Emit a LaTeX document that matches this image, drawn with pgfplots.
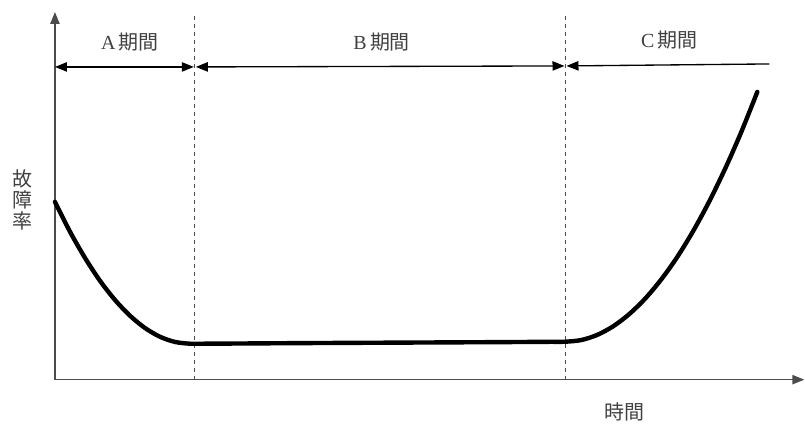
\documentclass[border=0pt]{standalone}
\usepackage{pgfplots}
\pgfplotsset{compat=1.18}
\usepackage{fontspec}
\setmainfont{Liberation Serif}
\newfontfamily\jp{Noto Sans CJK JP}
\usetikzlibrary{arrows.meta}
\begin{document}
\begin{tikzpicture}
\begin{axis}[
    x=0.75pt, y=0.75pt,
    xmin=0, xmax=750, ymin=0, ymax=368,
    axis lines=left,
    axis line style={line width=1.1pt, black!70, -{Triangle[length=9pt,width=7pt]}},
    xtick=\empty, ytick=\empty,
    clip=false,
]
% bounding box of the picture
\path (axis cs:-55,-44) rectangle (axis cs:750,380);

% period borders
\draw[dashed, black!70, line width=0.5pt] (axis cs:140,0) -- (axis cs:140,367);
\draw[dashed, black!70, line width=0.5pt] (axis cs:511,0) -- (axis cs:511,367);

% period arrows
\draw[line width=1pt, {Triangle[length=9pt,width=7pt]}-{Triangle[length=9pt,width=7pt]}] (axis cs:0,313) -- (axis cs:139,313);
\draw[line width=1pt, {Triangle[length=9pt,width=7pt]}-{Triangle[length=9pt,width=7pt]}] (axis cs:141,313) -- (axis cs:510,314);
\draw[line width=1pt, {Triangle[length=9pt,width=7pt]}-] (axis cs:512,314) -- (axis cs:715,316);

\node[text=black!75, font=\fontsize{15}{15}\selectfont] at (axis cs:75,338) {A\,{\jp 期間}};
\node[text=black!75, font=\fontsize{15}{15}\selectfont] at (axis cs:327,338) {B\,{\jp 期間}};
\node[text=black!75, font=\fontsize{15}{15}\selectfont] at (axis cs:615,340) {C\,{\jp 期間}};

\node[text=black!75, font=\jp\fontsize{15}{16}\selectfont, align=center] at (axis cs:-32,180) {故\\障\\率};
\node[text=black!75, font=\jp\fontsize{15}{15}\selectfont] at (axis cs:570,-32) {時間};

% failure rate (bathtub curve)
\addplot[black, line width=3.3pt, smooth, line cap=round] coordinates {
    (0,178) (15,148.2) (30,122.0) (45,99.1) (60,79.9) (75,64.1) (90,51.8)
    (105,43.0) (120,37.8) (135,36.0) (150,36.0) (170,36.1)
    (250,36.6) (350,37.1) (450,37.6) (480,37.8) (496,37.9) (511,38.0)
    (527,39.7) (543,44.9) (559,53.6) (575,65.8) (591,81.4) (607,100.5)
    (623,123.0) (639,149.1) (655,178.6) (671,211.6) (687,248.0) (703,288.0)
};
\end{axis}
\end{tikzpicture}
\end{document}
